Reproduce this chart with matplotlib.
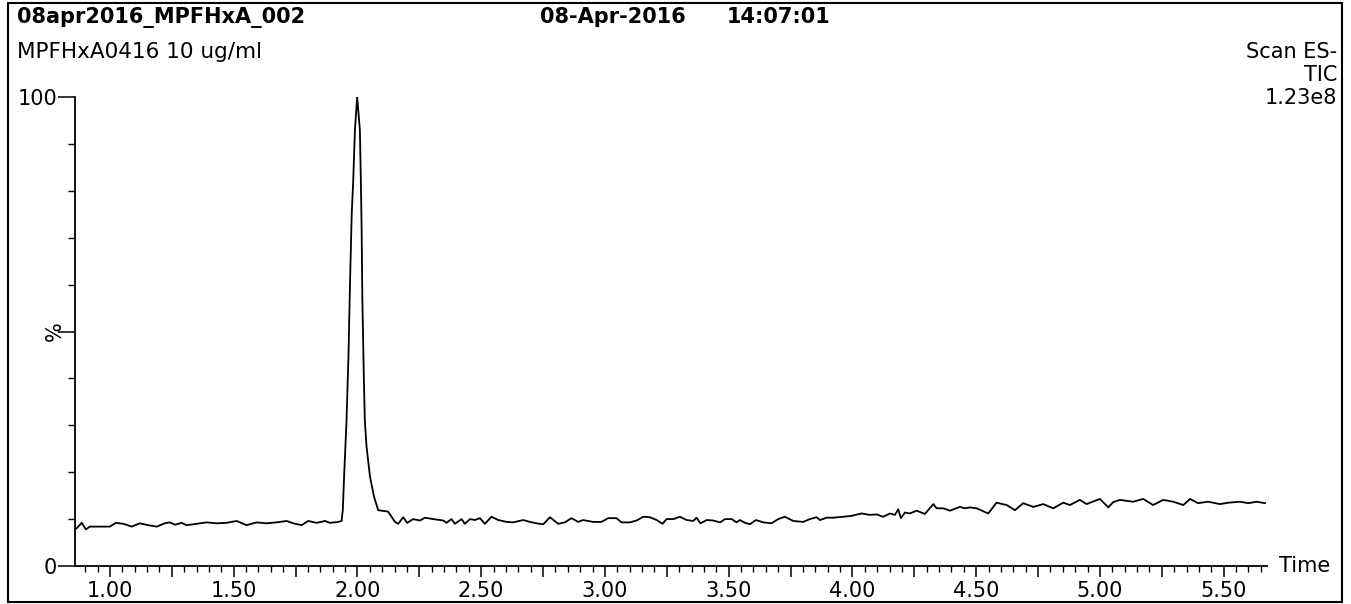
import matplotlib
matplotlib.use("Agg")
import matplotlib.pyplot as plt
from matplotlib.patches import Rectangle
import numpy as np

# chromatogram trace (time in min, intensity in %)
time_min = [
    0.865, 0.886, 0.903, 0.919, 1.000, 1.024, 1.054, 1.088, 1.121, 1.155,
    1.189, 1.222, 1.242, 1.263, 1.290, 1.310, 1.350, 1.391, 1.431, 1.471,
    1.512, 1.552, 1.593, 1.633, 1.673, 1.714, 1.741, 1.775, 1.801, 1.835,
    1.869, 1.889, 1.922, 1.936, 1.941, 1.947, 1.956, 1.964, 1.970, 1.977,
    1.983, 1.990, 1.999, 2.010, 2.014, 2.017, 2.020, 2.026, 2.030, 2.037,
    2.051, 2.067, 2.084, 2.124, 2.152, 2.165, 2.185, 2.201, 2.225, 2.253,
    2.273, 2.306, 2.347, 2.360, 2.380, 2.394, 2.421, 2.434, 2.455, 2.475,
    2.495, 2.515, 2.542, 2.569, 2.603, 2.629, 2.670, 2.697, 2.724, 2.751,
    2.778, 2.811, 2.838, 2.865, 2.892, 2.912, 2.952, 2.986, 3.013, 3.047,
    3.067, 3.101, 3.128, 3.155, 3.182, 3.209, 3.233, 3.249, 3.276, 3.303,
    3.330, 3.357, 3.370, 3.386, 3.411, 3.437, 3.465, 3.485, 3.512, 3.532,
    3.545, 3.566, 3.586, 3.610, 3.640, 3.673, 3.700, 3.727, 3.761, 3.801,
    3.828, 3.855, 3.869, 3.896, 3.922, 3.963, 3.997, 4.037, 4.071, 4.098,
    4.124, 4.152, 4.172, 4.185, 4.196, 4.212, 4.232, 4.259, 4.293, 4.327,
    4.340, 4.367, 4.394, 4.434, 4.455, 4.475, 4.502, 4.549, 4.582, 4.623,
    4.657, 4.690, 4.731, 4.771, 4.811, 4.852, 4.879, 4.919, 4.946, 5.000,
    5.034, 5.053, 5.081, 5.134, 5.175, 5.215, 5.256, 5.296, 5.337, 5.364,
    5.396, 5.437, 5.485, 5.519, 5.566, 5.600, 5.633, 5.667,
]
intensity_pct = [
    8.0, 9.2, 7.8, 8.4, 8.4, 9.2, 9.0, 8.4, 9.1, 8.7,
    8.4, 9.1, 9.3, 8.8, 9.2, 8.7, 9.0, 9.3, 9.1, 9.2,
    9.6, 8.7, 9.3, 9.1, 9.3, 9.6, 9.1, 8.7, 9.6, 9.2,
    9.6, 9.2, 9.4, 9.6, 12.0, 20.0, 31.0, 45.0, 60.0, 75.0,
    82.0, 93.0, 100.0, 93.0, 82.0, 72.0, 57.0, 40.0, 31.0, 25.4,
    19.0, 14.8, 11.9, 11.6, 9.4, 9.0, 10.4, 9.2, 10.0, 9.7,
    10.3, 10.0, 9.7, 9.2, 10.0, 9.0, 10.0, 9.0, 10.0, 9.8,
    10.2, 9.0, 10.5, 9.8, 9.4, 9.3, 9.8, 9.4, 9.1, 8.9,
    10.4, 9.0, 9.3, 10.2, 9.4, 9.8, 9.4, 9.4, 10.2, 10.2,
    9.3, 9.3, 9.7, 10.5, 10.4, 9.8, 9.0, 10.0, 10.0, 10.5,
    9.8, 9.6, 10.3, 9.1, 9.8, 9.7, 9.3, 10.0, 10.0, 9.3,
    9.8, 9.2, 8.9, 9.8, 9.3, 9.1, 10.0, 10.5, 9.6, 9.4,
    10.0, 10.4, 9.8, 10.3, 10.3, 10.5, 10.7, 11.2, 10.9, 11.0,
    10.5, 11.2, 10.9, 12.1, 10.2, 11.4, 11.2, 11.8, 11.1, 13.2,
    12.3, 12.3, 11.8, 12.6, 12.3, 12.5, 12.3, 11.2, 13.5, 13.0,
    11.9, 13.4, 12.6, 13.2, 12.3, 13.5, 13.0, 14.1, 13.2, 14.3,
    12.5, 13.6, 14.1, 13.7, 14.3, 13.0, 14.1, 13.7, 13.0, 14.3,
    13.4, 13.7, 13.2, 13.5, 13.7, 13.4, 13.7, 13.4,
]

x_labels = ["1.00", "1.50", "2.00", "2.50", "3.00", "3.50", "4.00", "4.50", "5.00", "5.50"]
y_labels = ["0", "", "100"]

W, H = 1351, 604
fig = plt.figure(figsize=(W / 100, H / 100), dpi=100)
ax = fig.add_axes([75 / W, 1 - 566 / H, (1267 - 75) / W, (566 - 97) / H])

ax.plot(time_min, intensity_pct, color="black", lw=1.3)
ax.set_xlim(0.859, 5.675)
ax.set_ylim(0, 100)

for s in ["top", "right"]:
    ax.spines[s].set_visible(False)
for s in ["left", "bottom"]:
    ax.spines[s].set_linewidth(1.3)

# x ticks: long every 0.25, short every 0.05, labels every 0.5
major_x = np.arange(1.0, 5.51, 0.25)
ax.set_xticks(major_x)
ax.set_xticklabels([x_labels[i // 2] if i % 2 == 0 else "" for i in range(len(major_x))])
ax.set_xticks(np.arange(0.9, 5.66, 0.05), minor=True)
ax.tick_params(axis="x", which="major", direction="out", length=8, width=1.1,
               labelsize=15, pad=3)
ax.tick_params(axis="x", which="minor", direction="out", length=4, width=1.0)

# y ticks: 0 / 50 / 100 with small ticks every 10
ax.set_yticks([0, 50, 100])
ax.set_yticklabels(y_labels)
ax.set_yticks([10, 20, 30, 40, 60, 70, 80, 90], minor=True)
ax.tick_params(axis="y", which="major", direction="out", length=12, width=1.1,
               labelsize=15, pad=1)
ax.tick_params(axis="y", which="minor", direction="out", length=5, width=1.0)

ax.text(1.01, 0.0, "Time", transform=ax.transAxes, fontsize=15,
        ha="left", va="center")

# header texts
def ftext(x, y, s, **kw):
    fig.text(x / W, 1 - y / H, s, va="center", **kw)

ftext(55, 331, "%", fontsize=15, rotation=90, ha="center")
ftext(17, 17, "08apr2016_MPFHxA_002", fontsize=15, fontweight="bold")
ftext(540, 17, "08-Apr-2016", fontsize=15, fontweight="bold")
ftext(727, 17, "14:07:01", fontsize=15, fontweight="bold")
ftext(17, 52, "MPFHxA0416 10 ug/ml", fontsize=15.5)
ftext(1337, 52, "Scan ES-", fontsize=15, ha="right")
ftext(1337, 75, "TIC", fontsize=15, ha="right")
ftext(1337, 98, "1.23e8", fontsize=15, ha="right")

# outer frame of the printout
fig.patches.append(Rectangle((8 / W, 2 / H), (1342 - 8) / W, (601 - 2) / H,
                             transform=fig.transFigure, fill=False,
                             edgecolor="black", lw=1.5))

fig.savefig("out.png", dpi=100)
